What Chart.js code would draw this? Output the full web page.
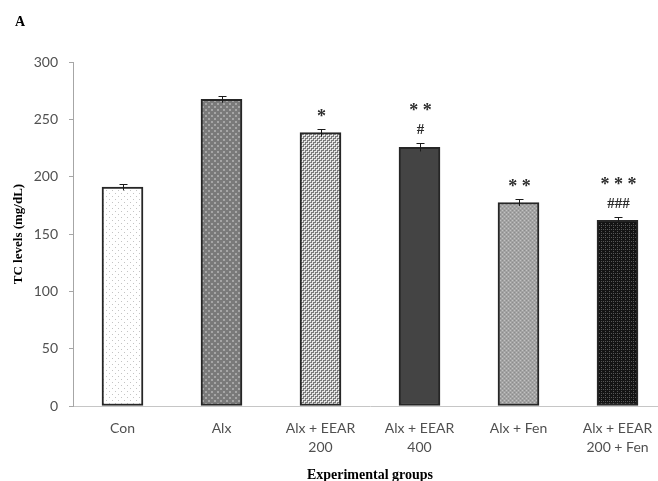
<!DOCTYPE html>
<html>
<head>
<meta charset="utf-8">
<script src="https://cdn.jsdelivr.net/npm/chart.js@4/dist/chart.umd.min.js"></script>
<style>
  html, body { margin: 0; padding: 0; background: #fff; overflow: hidden; }
  #wrap { width: 667px; height: 481px; position: relative; }
</style>
</head>
<body>
<div id="wrap"><canvas id="tc" width="667" height="481"></canvas></div>
<script>
// Panel letter
const panelLabel = 'A';

// Groups (multi-line category labels)
const groups = [
  ['Con'],
  ['Alx'],
  ['Alx + EEAR', '200'],
  ['Alx + EEAR', '400'],
  ['Alx + Fen'],
  ['Alx + EEAR', '200 + Fen']
];

// Mean total cholesterol (mg/dL) and standard error per group
const tcMeans  = [191, 267.5, 238.5, 225.5, 177.5, 162];
const tcErrors = [3, 3, 3.5, 3.5, 3, 2.5];

// Significance marks
const starMarks = ['', '', '*', '**', '**', '***'];
const hashMarks = ['', '', '', '#', '', '###'];

// Y-axis ticks
const yTicks = [0, 50, 100, 150, 200, 250, 300];

// --- fill patterns for the bars ---
function makePattern(size, bg, draw) {
  const c = document.createElement('canvas');
  c.width = size; c.height = size;
  const g = c.getContext('2d');
  g.fillStyle = bg;
  g.fillRect(0, 0, size, size);
  draw(g);
  return g.createPattern(c, 'repeat');
}
const ctx = document.getElementById('tc').getContext('2d');

const fills = [
  // sparse light dots on white
  makePattern(6, '#ffffff', g => {
    g.fillStyle = '#c4c4c4';
    g.fillRect(1, 1, 1, 1); g.fillRect(4, 4, 1, 1);
  }),
  // mid grey with lighter dots
  makePattern(6, '#7a7a7a', g => {
    g.fillStyle = '#a6a6a6';
    g.fillRect(1, 1, 2, 2); g.fillRect(4, 4, 2, 2);
  }),
  // light weave
  makePattern(4, '#e6e6e6', g => {
    g.fillStyle = '#7a7a7a';
    g.fillRect(0, 0, 2, 1); g.fillRect(2, 2, 2, 1);
    g.fillRect(3, 0, 1, 2); g.fillRect(1, 2, 1, 2);
  }),
  // dark solid
  makePattern(4, '#444444', g => {}),
  // fine grey checker
  makePattern(4, '#a3a3a3', g => {
    g.fillStyle = '#c2c2c2';
    g.fillRect(0, 0, 1, 1); g.fillRect(2, 2, 1, 1);
    g.fillStyle = '#8c8c8c';
    g.fillRect(2, 0, 1, 1); g.fillRect(0, 2, 1, 1);
  }),
  // black with grey grid dots
  makePattern(4, '#141414', g => {
    g.fillStyle = '#555555';
    g.fillRect(1, 1, 1, 1); g.fillRect(3, 1, 1, 1);
    g.fillRect(1, 3, 1, 1);
  })
];

// Error bars, significance marks and panel letter
const overlayPlugin = {
  id: 'overlay',
  afterDatasetsDraw(chart) {
    const c = chart.ctx;
    const meta = chart.getDatasetMeta(0);
    const y = chart.scales.y;
    c.save();
    c.strokeStyle = '#1a1a1a';
    c.lineWidth = 1;
    meta.data.forEach((bar, i) => {
      const x = Math.round(bar.x) + 0.5;
      const yTop = Math.round(y.getPixelForValue(tcMeans[i] + tcErrors[i])) + 0.5;
      const yLow = y.getPixelForValue(tcMeans[i] - tcErrors[i]);
      c.beginPath();
      c.moveTo(x, yLow); c.lineTo(x, yTop);
      c.moveTo(x - 4, yTop); c.lineTo(x + 4, yTop);
      c.stroke();

      c.fillStyle = '#2e2e2e';
      c.textAlign = 'center';
      c.textBaseline = 'middle';
      if (hashMarks[i]) {
        c.font = 'bold 15px "Liberation Serif", "Times New Roman", serif';
        c.fillText(hashMarks[i], x, yTop - 13);
      }
      if (starMarks[i]) {
        c.font = 'bold 18px "Liberation Serif", "Times New Roman", serif';
        const off = hashMarks[i] ? 34 : 14;
        c.fillText(starMarks[i].split('').join(' '), x, yTop - off + 2);
      }
    });
    c.fillStyle = '#000';
    c.textAlign = 'left';
    c.textBaseline = 'middle';
    c.font = 'bold 14px "Liberation Serif", "Times New Roman", serif';
    c.fillText(panelLabel, 15, 22);
    c.restore();
  }
};

new Chart(ctx, {
  type: 'bar',
  data: {
    labels: groups,
    datasets: [{
      data: tcMeans,
      backgroundColor: fills,
      borderColor: '#262626',
      borderWidth: 2,
      borderSkipped: false,
      barThickness: 41
    }]
  },
  options: {
    responsive: false,
    animation: false,
    events: [],
    layout: { padding: { top: 62, right: 0, bottom: 0, left: 0 } },
    plugins: {
      legend: { display: false },
      tooltip: { enabled: false }
    },
    scales: {
      x: {
        offset: true,
        grid: { display: false, drawTicks: false },
        border: { display: true, color: '#c6c6c6', width: 1 },
        ticks: {
          color: '#505050',
          padding: 13,
          maxRotation: 0,
          autoSkip: false,
          font: { family: 'Lato, "Open Sans", sans-serif', size: 14, lineHeight: 1.36 }
        },
        title: {
          display: true,
          text: 'Experimental groups',
          color: '#000',
          padding: { top: 0, bottom: 0 },
          font: { family: '"Liberation Serif", "Times New Roman", serif', size: 14, weight: 'bold', lineHeight: 0.8 }
        },
        afterFit(scale) { scale.height = 75; }
      },
      y: {
        min: 0,
        max: 300,
        afterBuildTicks(scale) { scale.ticks = yTicks.map(v => ({ value: v })); },
        grid: { drawOnChartArea: false, drawTicks: true, tickLength: 4, color: '#a6a6a6' },
        border: { display: true, color: '#a6a6a6', width: 1 },
        ticks: {
          color: '#505050',
          padding: 11,
          font: { family: 'Lato, "Open Sans", sans-serif', size: 14 }
        },
        title: {
          display: true,
          text: 'TC levels (mg/dL)',
          color: '#000',
          padding: { top: 12, bottom: 0 },
          font: { family: '"Liberation Serif", "Times New Roman", serif', size: 13, weight: 'bold', lineHeight: 1 }
        },
        afterFit(scale) { scale.width = 73; }
      }
    }
  },
  plugins: [overlayPlugin]
});
</script>
</body>
</html>
